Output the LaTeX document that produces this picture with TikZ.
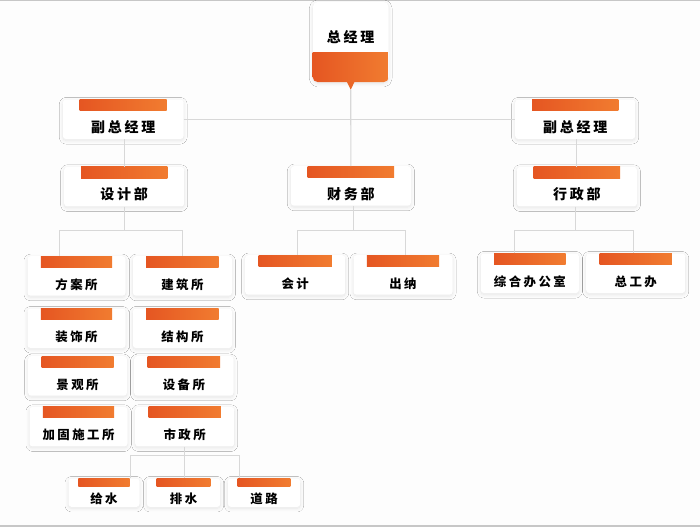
\documentclass[tikz,border=0pt]{standalone}
\usepackage{fontspec}
\newfontfamily\cjk[LetterSpace=20]{Noto Sans CJK SC}
\usetikzlibrary{shadows.blur}
\definecolor{barL}{RGB}{229,86,34}
\definecolor{barR}{RGB}{241,124,48}
\definecolor{linkgray}{RGB}{216,216,216}
\definecolor{pagebg}{RGB}{253,253,253}
\tikzset{
  unit/.style={fill=white, rounded corners=3pt, inner sep=0pt, anchor=north west,
    minimum width=#1, text height=33pt, text depth=6.5pt,
    font=\cjk\bfseries\fontsize{12.4}{15}\selectfont,
    blur shadow={shadow xshift=0pt, shadow yshift=-1.5pt, shadow blur radius=3.5pt, shadow blur steps=12, shadow opacity=10}},
  post/.style={unit=#1, font=\cjk\bfseries\fontsize{14}{17}\selectfont},
  leaf/.style={unit=#1, text height=24.7pt, text depth=3.7pt},
  bar/.style={left color=barL, right color=barR},
  link/.style={draw=linkgray, line width=1.1pt},
}
\begin{document}
\begin{tikzpicture}[x=1pt,y=-1pt]
\fill[pagebg] (0,0) rectangle (700,527);
\useasboundingbox (0,0) rectangle (700,527);
\draw[black!22, line width=1.5pt] (0,0.5) -- (700,0.5);
\draw[black!22, line width=1.5pt] (0,526) -- (700,526);

% top of the chart
\node[post=75.6pt, rounded corners=5pt, text height=40.6pt, text depth=39.4pt] (gm) at (312.7,1.7) {总经理};
\begin{scope}
\clip[rounded corners=5pt] (gm.north west) rectangle (gm.south east);
\shade[bar] ([yshift=30]gm.south west) rectangle (gm.south east);
\end{scope}
\fill[barL!55!barR] ([xshift=-3.7]gm.south) -- ([yshift=-7.6]gm.south) coordinate (gmtip) -- ([xshift=3.7]gm.south) -- cycle;

\node[post=120.6pt] (vpL) at (62.7,99.3) {副总经理};
\node[post=120pt] (vpR) at (515,99.3) {副总经理};
\node[post=120pt] (design) at (64,166.7) {设计部};
\node[post=120pt] (finance) at (290.7,166) {财务部};
\node[post=120pt] (admin) at (516.7,166.7) {行政部};

% offices
\node[unit=98pt] (fangan) at (27.3,256) {方案所};
\node[unit=99pt] (jianzhu) at (132.7,256) {建筑所};
\node[unit=98pt] (zhuangshi) at (27.3,308.3) {装饰所};
\node[unit=99pt] (jiegou) at (132.7,308.3) {结构所};
\node[unit=98.7pt] (jingguan) at (28,356) {景观所};
\node[unit=99.3pt] (shebei) at (134,356) {设备所};
\node[unit=98pt] (jiagu) at (29.3,406.7) {加固施工所};
\node[unit=99pt] (shizheng) at (135,406.7) {市政所};
\node[unit=100pt] (kuaiji) at (245,255) {会计};
\node[unit=99pt] (chuna) at (353.3,255) {出纳};
\node[unit=98pt] (zonghe) at (480.7,253.3) {综合办公室};
\node[unit=99pt] (zonggong) at (586,253.3) {总工办};
\node[leaf=71pt] (geishui) at (68.3,478.3) {给水};
\node[leaf=73.3pt] (paishui) at (146.7,478.3) {排水};
\node[leaf=72.3pt] (daolu) at (227.7,478.3) {道路};

% orange bars
\foreach \n in {vpL,vpR,design,finance,admin}
  \shade[bar] ([xshift=17]\n.north west) rectangle ([xshift=-17,yshift=-11.3]\n.north east);
\foreach \n in {fangan,jianzhu,zhuangshi,jiegou,jingguan,shebei,jiagu,shizheng,kuaiji,chuna,zonghe,zonggong}
  \shade[bar] ([xshift=13.5]\n.north west) rectangle ([xshift=-13.5,yshift=-11]\n.north east);
\foreach \n in {geishui,paishui,daolu}
  \shade[bar] ([xshift=10]\n.north west) rectangle ([xshift=-10,yshift=-8.5]\n.north east);

% connectors
\draw[link] (gmtip) -- (finance.north);
\draw[link] (vpL.east) -- (vpR.west);
\draw[link] (design.north) -- (design.north |- vpL.south);
\draw[link] (admin.north) -- (admin.north |- vpR.south);

\coordinate (dsplit) at ([yshift=-24]design.south);
\draw[link] (design.south) -- (dsplit);
\draw[link] ([xshift=-16.8]fangan.north) |- (dsplit) -| (jianzhu.north);

\coordinate (fsplit) at ([xshift=2.6,yshift=-24.5]finance.south);
\draw[link] ([xshift=2.6]finance.south) -- (fsplit);
\draw[link] ([xshift=2.3]kuaiji.north) |- (fsplit) -| ([xshift=2.2]chuna.north);

\coordinate (asplit) at ([xshift=-1.4,yshift=-23.8]admin.south);
\draw[link] ([xshift=-1.4]admin.south) -- (asplit);
\draw[link] ([xshift=-15.4]zonghe.north) |- (asplit) -| ([xshift=-2.2]zonggong.north);

\coordinate (ssplit) at ([yshift=-8.8]shizheng.south);
\draw[link] (shizheng.south) -- (shizheng.south |- paishui.north);
\draw[link] ([xshift=26.7]geishui.north) |- (ssplit) -| ([xshift=-24.8]daolu.north);
\end{tikzpicture}
\end{document}
